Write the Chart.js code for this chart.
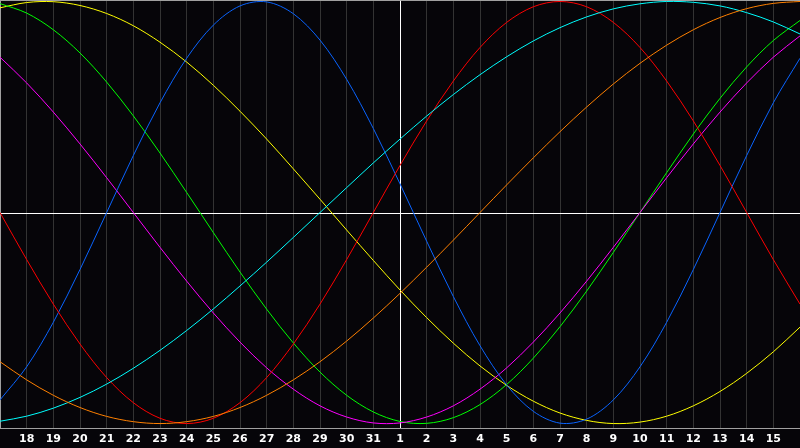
<!DOCTYPE html>
<html><head><meta charset="utf-8">
<script src="https://cdn.jsdelivr.net/npm/chart.js@4/dist/chart.umd.min.js"></script>
<style>html,body{margin:0;padding:0;background:#060509;}canvas{display:block;}</style>
</head><body>
<canvas id="c" width="800" height="448"></canvas>
<script>
// Day labels (x = day of month), index 15 is "today" (1)
const days = ['17','18','19','20','21','22','23','24','25','26','27','28','29','30','31',
              '1','2','3','4','5','6','7','8','9','10','11','12','13','14','15','16'];
const todayIndex = 15;

// Series values, one per day (-1 .. 1)
const physical = [-0.888,-0.731,-0.520,-0.270,0,0.270,0.520,0.731,0.888,0.979,0.998,0.942,0.817,0.631,0.398,0.136,
  -0.136,-0.398,-0.631,-0.817,-0.942,-0.998,-0.979,-0.888,-0.731,-0.520,-0.270,0,0.270,0.520,0.731];
const emotional = [0,-0.223,-0.434,-0.623,-0.782,-0.901,-0.975,-1,-0.975,-0.901,-0.782,-0.623,-0.434,-0.223,0,0.223,
  0.434,0.623,0.782,0.901,0.975,1,0.975,0.901,0.782,0.623,0.434,0.223,0,-0.223,-0.434];
const intellectual = [0.990,0.945,0.866,0.756,0.618,0.458,0.282,0.095,-0.095,-0.282,-0.458,-0.618,-0.756,-0.866,-0.945,-0.990,
  -0.999,-0.972,-0.910,-0.815,-0.690,-0.541,-0.372,-0.189,0,0.189,0.372,0.541,0.690,0.815,0.910];
const intuitive = [0.736,0.614,0.476,0.325,0.165,0,-0.165,-0.325,-0.476,-0.614,-0.736,-0.837,-0.916,-0.969,-0.997,-0.997,
  -0.969,-0.916,-0.837,-0.736,-0.614,-0.476,-0.325,-0.165,0,0.165,0.325,0.476,0.614,0.736,0.837];
const aesthetic = [0.970,0.995,0.999,0.981,0.943,0.885,0.807,0.713,0.603,0.480,0.348,0.207,0.063,-0.083,-0.227,-0.367,
  -0.498,-0.619,-0.727,-0.819,-0.894,-0.950,-0.985,-1.000,-0.993,-0.965,-0.916,-0.848,-0.762,-0.660,-0.543];
const awareness = [-0.707,-0.793,-0.866,-0.924,-0.966,-0.991,-1,-0.991,-0.966,-0.924,-0.866,-0.793,-0.707,-0.609,-0.5,-0.383,
  -0.259,-0.131,0,0.131,0.259,0.383,0.5,0.609,0.707,0.793,0.866,0.924,0.966,0.991,1];
const spiritual = [-0.989,-0.965,-0.927,-0.876,-0.813,-0.738,-0.653,-0.559,-0.457,-0.348,-0.235,-0.118,0,0.118,0.235,0.348,
  0.457,0.559,0.653,0.738,0.813,0.876,0.927,0.965,0.989,1.000,0.996,0.979,0.947,0.903,0.846];

const seriesNames = ['Awareness','Spiritual','Emotional','Physical','Intuitive','Intellectual','Aesthetic'];
const seriesData = [awareness, spiritual, emotional, physical, intuitive, intellectual, aesthetic];
const seriesColors = ['#ff8000','#00ffff','#ff0000','#0a64ff','#ff00ff','#00ff00','#ffff00'];

// Axis range and reference line
const yTop = 1.007, yBottom = -1.021, zeroLine = -0.007;

new Chart(document.getElementById('c'), {
  type: 'line',
  data: {
    labels: days,
    datasets: seriesNames.map((n, k) => ({
      label: n, data: seriesData[k], borderColor: seriesColors[k], borderWidth: 1,
      pointRadius: 0, pointHoverRadius: 0, tension: 0.33, fill: false
    }))
  },
  options: {
    responsive: false, animation: false, devicePixelRatio: 1,
    layout: { autoPadding: false, padding: 0 },
    plugins: { legend: { display: false }, tooltip: { enabled: false } },
    scales: {
      x: {
        type: 'category', offset: false,
        afterFit: s => { s.paddingLeft = 0; s.paddingRight = 0; s.paddingTop = 0; s.paddingBottom = 0; s.height = 20; },
        grid: { offset: false, drawTicks: false, lineWidth: 1,
          color: ctx => ctx.index === todayIndex ? '#ffffff' : (ctx.index === 0 ? '#a0a0a0' : '#333333') },
        border: { display: true, color: '#a0a0a0' },
        ticks: { autoSkip: false, maxRotation: 0, minRotation: 0, padding: 4.5, color: '#ffffff',
          font: { family: 'DejaVu Sans', size: 11, weight: 'bold' },
          callback: (v, i) => (i === 0 || i === days.length - 1) ? '' : days[i] }
      },
      y: {
        min: yBottom, max: yTop,
        afterFit: s => { s.paddingTop = 0; s.paddingBottom = 0; s.width = 0; },
        afterBuildTicks: s => { s.ticks = [{ value: yBottom }, { value: zeroLine }, { value: yTop }]; },
        ticks: { display: false },
        grid: { drawTicks: false, lineWidth: 1,
          color: ctx => (ctx.tick && ctx.tick.value === zeroLine) ? '#ffffff' : '#a0a0a0' },
        border: { display: true, color: '#a0a0a0' }
      }
    }
  }
});
</script>
</body></html>
